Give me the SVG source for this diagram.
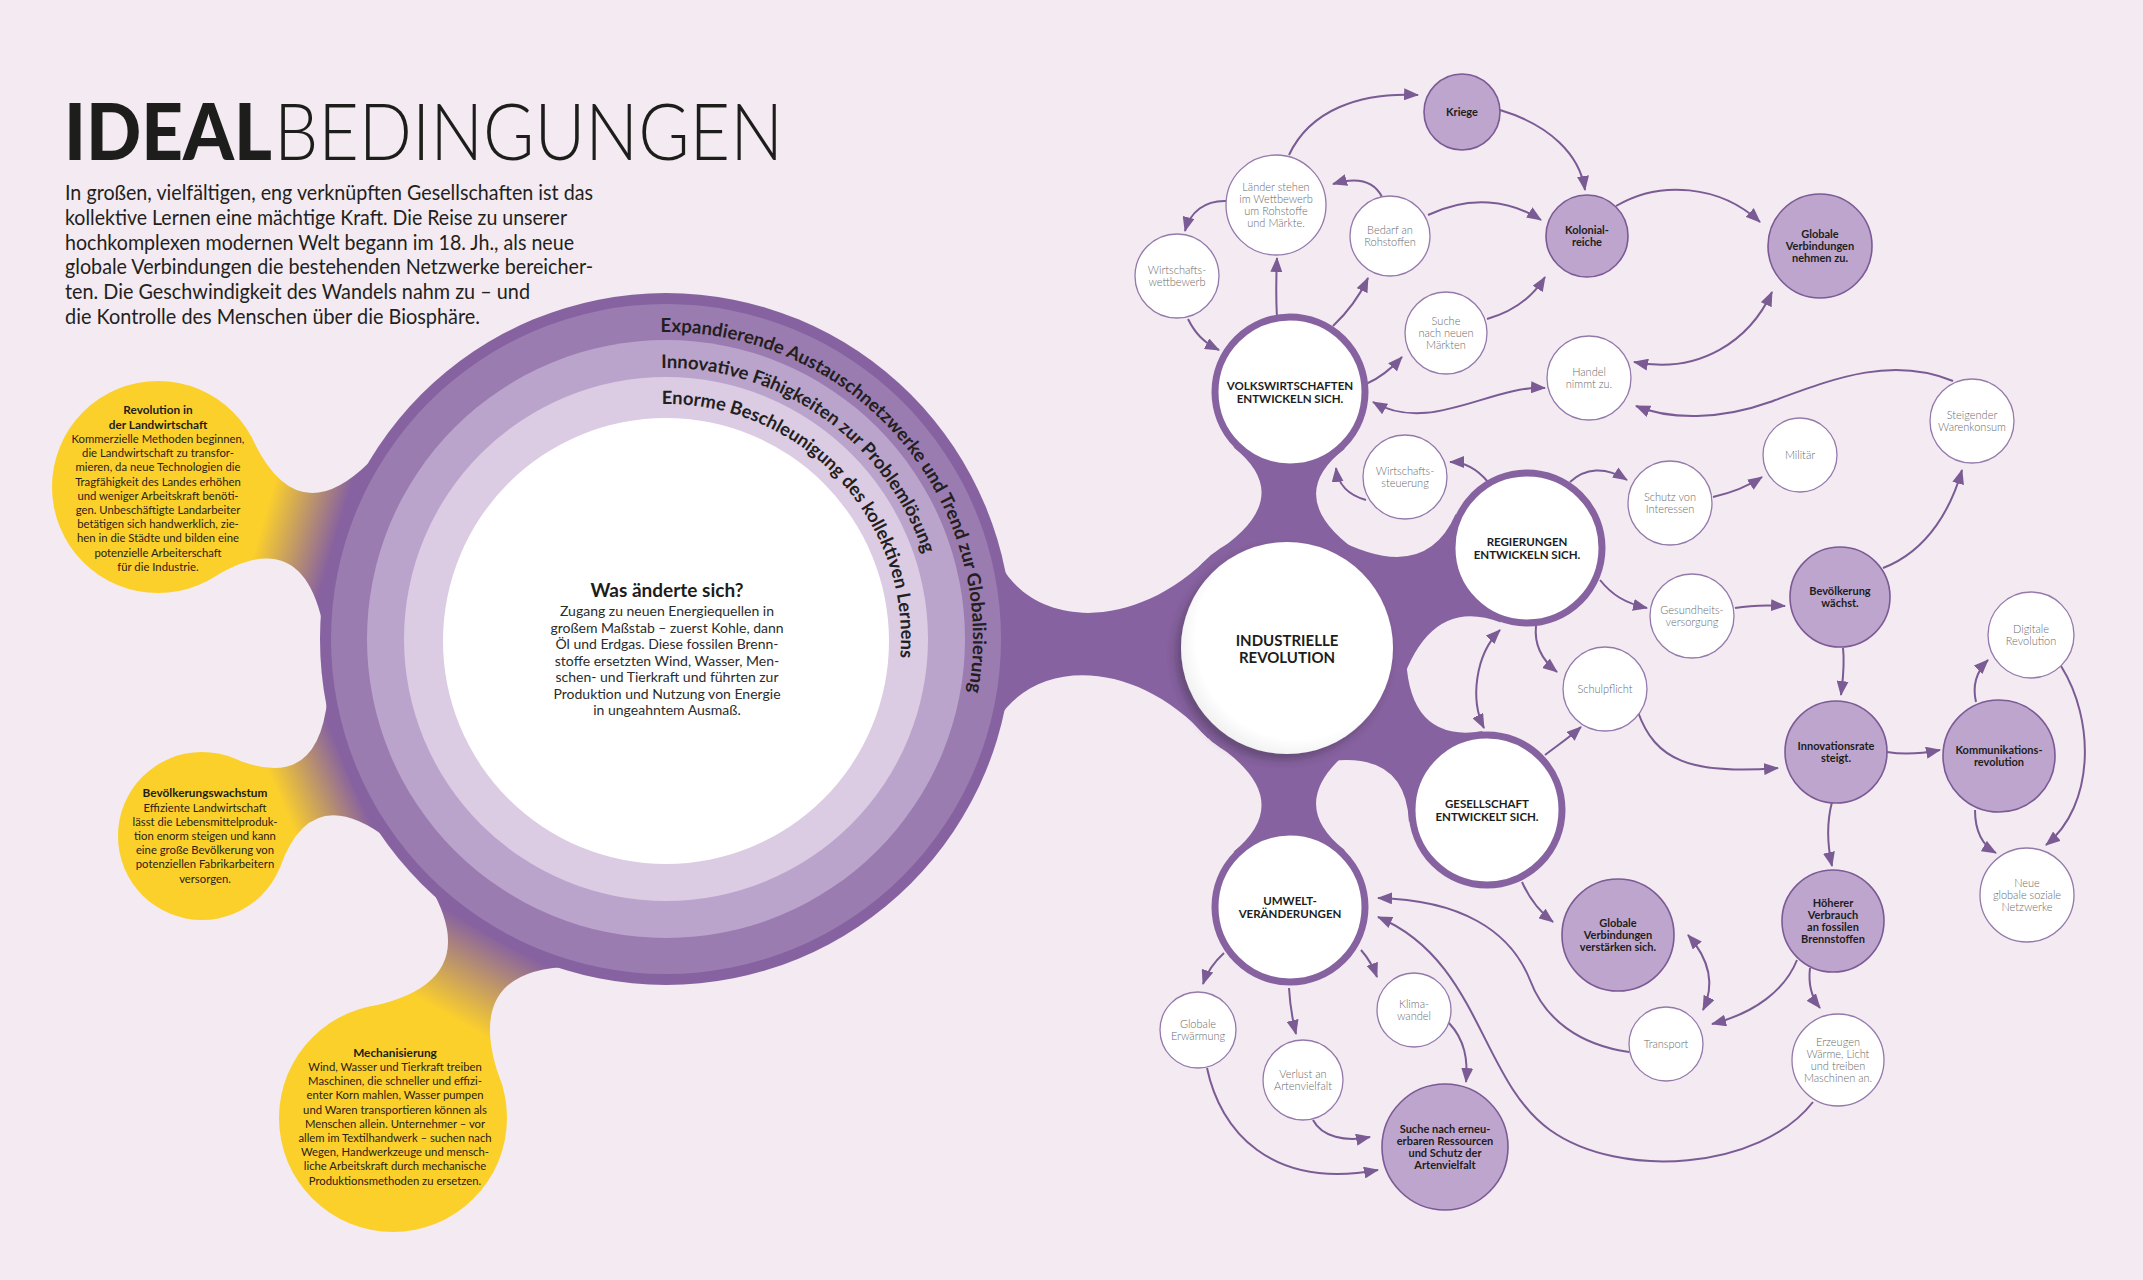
<svg xmlns="http://www.w3.org/2000/svg" width="2143" height="1280" viewBox="0 0 2143 1280">
<defs>
<style>
.f{font-family:Lato,'Liberation Sans',sans-serif}
.nw{fill:#ffffff;stroke:#9479ab;stroke-width:1.3}
.nd{fill:#bea5cd;stroke:#7b5a95;stroke-width:1.6}
.nm{fill:#ffffff;stroke:#8762a0;stroke-width:7}
.pu{fill:#8762a0}
.tl{font-family:Lato,'Liberation Sans',sans-serif;font-size:11px;font-weight:300;fill:#6b6b6b;text-anchor:middle}
.tb{font-family:Lato,'Liberation Sans',sans-serif;font-size:11px;font-weight:700;fill:#1d1d1b;text-anchor:middle}
.tm{font-family:Lato,'Liberation Sans',sans-serif;font-size:11.5px;font-weight:700;fill:#1d1d1b;text-anchor:middle}
.ty{font-family:Lato,'Liberation Sans',sans-serif;font-size:11.3px;fill:#2a2118;text-anchor:middle}
.tyb{font-family:Lato,'Liberation Sans',sans-serif;font-size:11.8px;font-weight:700;fill:#1d1d1b;text-anchor:middle}
.ring{font-family:Lato,'Liberation Sans',sans-serif;font-size:18.5px;font-weight:700;fill:#231f20}
.intro{font-family:Lato,'Liberation Sans',sans-serif;font-size:22px;fill:#231f20}
.c{fill:none;stroke:#7a5b94;stroke-width:2;marker-end:url(#ah)}
.c2{marker-start:url(#ah)}
</style>
<marker id="ah" viewBox="0 0 15 12" refX="14" refY="6" markerWidth="15" markerHeight="12" markerUnits="userSpaceOnUse" orient="auto-start-reverse">
<path d="M0,0 L15,6 L0,12 Z" fill="#7a5b94"/>
</marker>
<linearGradient id="g1" gradientUnits="userSpaceOnUse" x1="263.5" y1="518" x2="335.5" y2="539.2"><stop offset="0" stop-color="#fcd02b"/><stop offset="1" stop-color="#8762a0"/></linearGradient>
<linearGradient id="g2" gradientUnits="userSpaceOnUse" x1="281" y1="801.9" x2="348.9" y2="772.6"><stop offset="0" stop-color="#fcd02b"/><stop offset="1" stop-color="#8762a0"/></linearGradient>
<linearGradient id="g3" gradientUnits="userSpaceOnUse" x1="450" y1="1017" x2="495.2" y2="936.8"><stop offset="0" stop-color="#fcd02b"/><stop offset="1" stop-color="#8762a0"/></linearGradient>
<radialGradient id="hubfill" cx="0.55" cy="0.45" r="0.6"><stop offset="0.8" stop-color="#ffffff"/><stop offset="1" stop-color="#ececec"/></radialGradient>
<filter id="shadow" x="-30%" y="-30%" width="160%" height="160%"><feDropShadow dx="-5" dy="6" stdDeviation="5" flood-color="#3a2a45" flood-opacity="0.45"/></filter>
<path id="arc1" d="M 660.6,332.05 A 307 307 0 0 1 931.9,792.5"/>
<path id="arc2" d="M 661.3,368.0 A 271 271 0 0 1 900.7,774.5"/>
<path id="arc3" d="M 661.9,404.0 A 235 235 0 0 1 869.5,756.5"/>
</defs>

<rect x="0" y="0" width="2143" height="1280" fill="#f3eaf2"/>

<g id="title">
<text class="f" x="64" y="160" font-size="78" font-weight="900" fill="#1d1d1b" textLength="208" lengthAdjust="spacingAndGlyphs">IDEAL</text>
<text class="f" x="274" y="160" font-size="78" font-weight="300" fill="#1d1d1b" textLength="509" lengthAdjust="spacingAndGlyphs">BEDINGUNGEN</text>
</g>

<g id="intro">
<text class="intro" x="65" y="200" textLength="528" lengthAdjust="spacingAndGlyphs">In großen, vielfältigen, eng verknüpften Gesellschaften ist das</text>
<text class="intro" x="65" y="225" textLength="502" lengthAdjust="spacingAndGlyphs">kollektive Lernen eine mächtige Kraft. Die Reise zu unserer</text>
<text class="intro" x="65" y="250" textLength="509" lengthAdjust="spacingAndGlyphs">hochkomplexen modernen Welt begann im 18. Jh., als neue</text>
<text class="intro" x="65" y="274" textLength="528" lengthAdjust="spacingAndGlyphs">globale Verbindungen die bestehenden Netzwerke bereicher-</text>
<text class="intro" x="65" y="299" textLength="465" lengthAdjust="spacingAndGlyphs">ten. Die Geschwindigkeit des Wandels nahm zu – und</text>
<text class="intro" x="65" y="324" textLength="415" lengthAdjust="spacingAndGlyphs">die Kontrolle des Menschen über die Biosphäre.</text>
</g>

<g id="necks">
<path d="M 251.1,436.2 Q 295.8,534.8 369.1,462.5 L 322.3,621.8 Q 299.8,521.4 208.8,580.1 Z" fill="url(#g1)"/>
<path d="M 233.0,757.9 Q 317.9,794.9 327.6,697.7 L 388.8,839.4 Q 311.3,779.7 280.1,867.0 Z" fill="url(#g2)"/>
<path d="M 362.4,1008.2 Q 488.2,985.4 429.2,885.1 L 573.7,966.7 Q 457.2,968.0 502.8,1087.4 Z" fill="url(#g3)"/>
<path class="pu" d="M 997.6,719.6 C 1037,656.9 1137,658.8 1208.1,738.4 L 1211.7,554.6 C 1137,631.4 1037,629.5 1000.7,565.3 Z"/>
<circle class="pu" cx="1287" cy="648" r="120"/>
<path class="pu" d="M 1365.2,557.0 Q 1278.2,499.4 1345.2,448.5 L 1233.5,447.2 Q 1299.2,499.6 1211.0,555.2 Z"/>
<path class="pu" d="M 1398.0,693.7 Q 1427.5,594.0 1500.8,622.5 L 1455.6,514.1 Q 1424.3,586.2 1332.7,537.0 Z"/>
<path class="pu" d="M 1299.5,767.3 Q 1405.3,738.9 1409.0,822.3 L 1482.9,731.1 Q 1400.5,744.9 1406.3,635.5 Z"/>
<path class="pu" d="M 1210.9,740.8 Q 1299.2,797.9 1233.5,851.8 L 1345.2,850.5 Q 1278.2,798.1 1365.2,739.0 Z"/>
</g>

<g id="big-circle">
<circle cx="666" cy="639" r="346" fill="#8762a0"/>
<circle cx="666" cy="639" r="335" fill="#9b7cb1"/>
<circle cx="666" cy="639" r="299" fill="#bba4cb"/>
<circle cx="666" cy="639" r="262" fill="#dbcbe3"/>
<circle cx="666" cy="641" r="223" fill="#ffffff"/>
<text class="ring"><textPath href="#arc1" textLength="541" lengthAdjust="spacingAndGlyphs">Expandierende Austauschnetzwerke und Trend zur Globalisierung</textPath></text>
<text class="ring"><textPath href="#arc2" textLength="344" lengthAdjust="spacingAndGlyphs">Innovative Fähigkeiten zur Problemlösung</textPath></text>
<text class="ring"><textPath href="#arc3" textLength="392" lengthAdjust="spacingAndGlyphs">Enorme Beschleunigung des kollektiven Lernens</textPath></text>
<text class="f" x="667" y="597" font-size="19" font-weight="700" fill="#1d1d1b" text-anchor="middle">Was änderte sich?</text>
<g class="f" font-size="14" fill="#2b2b2b" text-anchor="middle">
<text x="667" y="616">Zugang zu neuen Energiequellen in</text>
<text x="667" y="632.5">großem Maßstab – zuerst Kohle, dann</text>
<text x="667" y="649">Öl und Erdgas. Diese fossilen Brenn-</text>
<text x="667" y="665.5">stoffe ersetzten Wind, Wasser, Men-</text>
<text x="667" y="682">schen- und Tierkraft und führten zur</text>
<text x="667" y="698.5">Produktion und Nutzung von Energie</text>
<text x="667" y="715">in ungeahntem Ausmaß.</text>
</g>
</g>

<g id="yellow-landwirtschaft">
<circle cx="158" cy="487" r="106" fill="#fcd02b"/>
<text class="tyb" x="158" y="414">Revolution in</text>
<text class="tyb" x="158" y="429">der Landwirtschaft</text>
<text class="ty" x="158" y="443">Kommerzielle Methoden beginnen,</text>
<text class="ty" x="158" y="457.2">die Landwirtschaft zu transfor-</text>
<text class="ty" x="158" y="471.4">mieren, da neue Technologien die</text>
<text class="ty" x="158" y="485.6">Tragfähigkeit des Landes erhöhen</text>
<text class="ty" x="158" y="499.8">und weniger Arbeitskraft benöti-</text>
<text class="ty" x="158" y="514">gen. Unbeschäftigte Landarbeiter</text>
<text class="ty" x="158" y="528.2">betätigen sich handwerklich, zie-</text>
<text class="ty" x="158" y="542.4">hen in die Städte und bilden eine</text>
<text class="ty" x="158" y="556.6">potenzielle Arbeiterschaft</text>
<text class="ty" x="158" y="570.8">für die Industrie.</text>
</g>

<g id="yellow-bevoelkerung">
<circle cx="202" cy="836" r="84" fill="#fcd02b"/>
<text class="tyb" x="205" y="797">Bevölkerungswachstum</text>
<text class="ty" x="205" y="812">Effiziente Landwirtschaft</text>
<text class="ty" x="205" y="826">lässt die Lebensmittelproduk-</text>
<text class="ty" x="205" y="840">tion enorm steigen und kann</text>
<text class="ty" x="205" y="854">eine große Bevölkerung von</text>
<text class="ty" x="205" y="868">potenziellen Fabrikarbeitern</text>
<text class="ty" x="205" y="883">versorgen.</text>
</g>

<g id="yellow-mechanisierung">
<circle cx="393" cy="1118" r="114" fill="#fcd02b"/>
<text class="tyb" x="395" y="1057">Mechanisierung</text>
<text class="ty" x="395" y="1071">Wind, Wasser und Tierkraft treiben</text>
<text class="ty" x="395" y="1085.2">Maschinen, die schneller und effizi-</text>
<text class="ty" x="395" y="1099.4">enter Korn mahlen, Wasser pumpen</text>
<text class="ty" x="395" y="1113.6">und Waren transportieren können als</text>
<text class="ty" x="395" y="1127.8">Menschen allein. Unternehmer – vor</text>
<text class="ty" x="395" y="1142">allem im Textilhandwerk – suchen nach</text>
<text class="ty" x="395" y="1156.2">Wegen, Handwerkzeuge und mensch-</text>
<text class="ty" x="395" y="1170.4">liche Arbeitskraft durch mechanische</text>
<text class="ty" x="395" y="1184.6">Produktionsmethoden zu ersetzen.</text>
</g>

<g id="connectors">
<path class="c" d="M 1289,155 C 1310,110 1360,92 1418,95"/>
<path class="c" d="M 1500,110 C 1550,125 1580,155 1585,190"/>
<path class="c" d="M 1382,197 C 1375,183 1360,176 1333,184"/>
<path class="c" d="M 1227,201 C 1205,200 1190,212 1185,231"/>
<path class="c" d="M 1188,319 C 1195,333 1203,342 1219,350"/>
<path class="c" d="M 1277,318 C 1276,300 1276,280 1277,258"/>
<path class="c" d="M 1333,326 C 1350,310 1360,295 1368,278"/>
<path class="c" d="M 1428,215 C 1470,195 1510,200 1541,220"/>
<path class="c" d="M 1487,319 C 1512,312 1532,298 1545,277"/>
<path class="c" d="M 1366,384 C 1380,378 1392,368 1402,357"/>
<path class="c" d="M 1616,206 C 1660,180 1720,185 1760,222"/>
<path class="c c2" d="M 1634,362 C 1700,375 1750,340 1772,292"/>
<path class="c c2" d="M 1373,402 C 1430,435 1490,385 1545,388"/>
<path class="c" d="M 1953,381 C 1890,355 1830,380 1770,402 C 1720,420 1670,420 1636,406"/>
<path class="c" d="M 1488,482 C 1478,470 1465,462 1450,462"/>
<path class="c" d="M 1366,500 C 1348,495 1338,485 1336,468"/>
<path class="c" d="M 1570,482 C 1585,468 1605,466 1627,480"/>
<path class="c" d="M 1713,497 C 1735,492 1750,485 1762,477"/>
<path class="c" d="M 1600,580 C 1612,595 1625,603 1647,608"/>
<path class="c" d="M 1735,608 C 1752,605 1768,605 1785,606"/>
<path class="c" d="M 1536,626 C 1534,645 1542,660 1557,672"/>
<path class="c c2" d="M 1500,630 C 1475,655 1470,700 1484,728"/>
<path class="c" d="M 1545,755 C 1558,745 1570,737 1581,727"/>
<path class="c" d="M 1638,712 C 1655,760 1690,775 1778,768"/>
<path class="c" d="M 1883,568 C 1930,550 1952,505 1962,470"/>
<path class="c" d="M 1843,648 C 1845,665 1843,678 1841,695"/>
<path class="c" d="M 1887,752 C 1905,755 1920,754 1940,750"/>
<path class="c" d="M 1976,702 C 1972,685 1976,672 1988,660"/>
<path class="c" d="M 2061,666 C 2095,720 2095,805 2046,845"/>
<path class="c" d="M 1975,810 C 1975,830 1982,845 1996,853"/>
<path class="c" d="M 1832,802 C 1826,825 1828,848 1832,866"/>
<path class="c" d="M 1522,882 C 1530,900 1540,912 1553,922"/>
<path class="c" d="M 1629,1052 C 1580,1045 1545,1020 1530,980 C 1510,930 1460,900 1378,898"/>
<path class="c" d="M 1813,1102 C 1760,1170 1620,1180 1550,1130 C 1480,1080 1480,960 1378,917"/>
<path class="c c2" d="M 1688,935 C 1710,960 1715,985 1703,1010"/>
<path class="c" d="M 1797,960 C 1785,990 1755,1013 1712,1024"/>
<path class="c" d="M 1810,968 C 1808,985 1812,998 1820,1008"/>
<path class="c" d="M 1224,953 C 1213,963 1207,972 1203,984"/>
<path class="c" d="M 1289,988 C 1290,1005 1292,1018 1296,1034"/>
<path class="c" d="M 1361,950 C 1368,958 1373,966 1377,977"/>
<path class="c" d="M 1449,1023 C 1465,1040 1468,1060 1466,1082"/>
<path class="c" d="M 1313,1120 C 1322,1137 1345,1142 1370,1137"/>
<path class="c" d="M 1207,1068 C 1220,1130 1270,1190 1378,1170"/>
</g>

<g id="node-industrielle">
<circle cx="1287" cy="648" r="106" fill="url(#hubfill)" filter="url(#shadow)"/>
<text class="f" x="1287" y="645.5" font-size="15" font-weight="700" fill="#1d1d1b" text-anchor="middle">INDUSTRIELLE</text>
<text class="f" x="1287" y="662.5" font-size="15" font-weight="700" fill="#1d1d1b" text-anchor="middle">REVOLUTION</text>
</g>
<g id="node-volkswirtschaften">
<circle class="nm" cx="1290" cy="392" r="75"/>
<text class="tm" x="1290" y="390">VOLKSWIRTSCHAFTEN</text>
<text class="tm" x="1290" y="403">ENTWICKELN SICH.</text>
</g>
<g id="node-regierungen">
<circle class="nm" cx="1527" cy="548" r="75"/>
<text class="tm" x="1527" y="546">REGIERUNGEN</text>
<text class="tm" x="1527" y="559">ENTWICKELN SICH.</text>
</g>
<g id="node-gesellschaft">
<circle class="nm" cx="1487" cy="810" r="75"/>
<text class="tm" x="1487" y="808">GESELLSCHAFT</text>
<text class="tm" x="1487" y="821">ENTWICKELT SICH.</text>
</g>
<g id="node-umwelt">
<circle class="nm" cx="1290" cy="907" r="75"/>
<text class="tm" x="1290" y="905">UMWELT-</text>
<text class="tm" x="1290" y="918">VERÄNDERUNGEN</text>
</g>

<g id="node-kriege"><circle class="nd" cx="1462" cy="112" r="38"/><text class="tb" x="1462" y="116">Kriege</text></g>
<g id="node-laender"><circle class="nw" cx="1276" cy="205" r="50"/><text class="tl" x="1276" y="191">Länder stehen</text><text class="tl" x="1276" y="203">im Wettbewerb</text><text class="tl" x="1276" y="215">um Rohstoffe</text><text class="tl" x="1276" y="227">und Märkte.</text></g>
<g id="node-bedarf"><circle class="nw" cx="1390" cy="236" r="40"/><text class="tl" x="1390" y="234">Bedarf an</text><text class="tl" x="1390" y="246">Rohstoffen</text></g>
<g id="node-kolonialreiche"><circle class="nd" cx="1587" cy="236" r="41"/><text class="tb" x="1587" y="234">Kolonial-</text><text class="tb" x="1587" y="246">reiche</text></g>
<g id="node-globale-nehmen"><circle class="nd" cx="1820" cy="246" r="52"/><text class="tb" x="1820" y="238">Globale</text><text class="tb" x="1820" y="250">Verbindungen</text><text class="tb" x="1820" y="262">nehmen zu.</text></g>
<g id="node-wirtschaftswettbewerb"><circle class="nw" cx="1177" cy="276" r="42"/><text class="tl" x="1177" y="274">Wirtschafts-</text><text class="tl" x="1177" y="286">wettbewerb</text></g>
<g id="node-suche-maerkte"><circle class="nw" cx="1446" cy="333" r="41"/><text class="tl" x="1446" y="325">Suche</text><text class="tl" x="1446" y="337">nach neuen</text><text class="tl" x="1446" y="349">Märkten</text></g>
<g id="node-handel"><circle class="nw" cx="1589" cy="378" r="42"/><text class="tl" x="1589" y="376">Handel</text><text class="tl" x="1589" y="388">nimmt zu.</text></g>
<g id="node-steigender"><circle class="nw" cx="1972" cy="421" r="42"/><text class="tl" x="1972" y="419">Steigender</text><text class="tl" x="1972" y="431">Warenkonsum</text></g>
<g id="node-militaer"><circle class="nw" cx="1800" cy="455" r="37"/><text class="tl" x="1800" y="459">Militär</text></g>
<g id="node-wirtschaftssteuerung"><circle class="nw" cx="1405" cy="477" r="42"/><text class="tl" x="1405" y="475">Wirtschafts-</text><text class="tl" x="1405" y="487">steuerung</text></g>
<g id="node-schutz"><circle class="nw" cx="1670" cy="503" r="42"/><text class="tl" x="1670" y="501">Schutz von</text><text class="tl" x="1670" y="513">Interessen</text></g>
<g id="node-bevoelkerung"><circle class="nd" cx="1840" cy="597" r="50"/><text class="tb" x="1840" y="595">Bevölkerung</text><text class="tb" x="1840" y="607">wächst.</text></g>
<g id="node-gesundheit"><circle class="nw" cx="1692" cy="616" r="42"/><text class="tl" x="1692" y="614">Gesundheits-</text><text class="tl" x="1692" y="626">versorgung</text></g>
<g id="node-digitale"><circle class="nw" cx="2031" cy="635" r="43"/><text class="tl" x="2031" y="633">Digitale</text><text class="tl" x="2031" y="645">Revolution</text></g>
<g id="node-schulpflicht"><circle class="nw" cx="1605" cy="689" r="42"/><text class="tl" x="1605" y="693">Schulpflicht</text></g>
<g id="node-innovationsrate"><circle class="nd" cx="1836" cy="752" r="51"/><text class="tb" x="1836" y="750">Innovationsrate</text><text class="tb" x="1836" y="762">steigt.</text></g>
<g id="node-kommunikation"><circle class="nd" cx="1999" cy="756" r="56"/><text class="tb" x="1999" y="754">Kommunikations-</text><text class="tb" x="1999" y="766">revolution</text></g>
<g id="node-neue-netzwerke"><circle class="nw" cx="2027" cy="895" r="47"/><text class="tl" x="2027" y="887">Neue</text><text class="tl" x="2027" y="899">globale soziale</text><text class="tl" x="2027" y="911">Netzwerke</text></g>
<g id="node-globale-verstaerken"><circle class="nd" cx="1618" cy="935" r="56"/><text class="tb" x="1618" y="927">Globale</text><text class="tb" x="1618" y="939">Verbindungen</text><text class="tb" x="1618" y="951">verstärken sich.</text></g>
<g id="node-hoeherer"><circle class="nd" cx="1833" cy="921" r="51"/><text class="tb" x="1833" y="907">Höherer</text><text class="tb" x="1833" y="919">Verbrauch</text><text class="tb" x="1833" y="931">an fossilen</text><text class="tb" x="1833" y="943">Brennstoffen</text></g>
<g id="node-klimawandel"><circle class="nw" cx="1414" cy="1010" r="37"/><text class="tl" x="1414" y="1008">Klima-</text><text class="tl" x="1414" y="1020">wandel</text></g>
<g id="node-erwaermung"><circle class="nw" cx="1198" cy="1030" r="38"/><text class="tl" x="1198" y="1028">Globale</text><text class="tl" x="1198" y="1040">Erwärmung</text></g>
<g id="node-transport"><circle class="nw" cx="1666" cy="1044" r="37"/><text class="tl" x="1666" y="1048">Transport</text></g>
<g id="node-verlust"><circle class="nw" cx="1303" cy="1080" r="40"/><text class="tl" x="1303" y="1078">Verlust an</text><text class="tl" x="1303" y="1090">Artenvielfalt</text></g>
<g id="node-erzeugen"><circle class="nw" cx="1838" cy="1060" r="46"/><text class="tl" x="1838" y="1046">Erzeugen</text><text class="tl" x="1838" y="1058">Wärme, Licht</text><text class="tl" x="1838" y="1070">und treiben</text><text class="tl" x="1838" y="1082">Maschinen an.</text></g>
<g id="node-suche-erneuerbar"><circle class="nd" cx="1445" cy="1147" r="63"/><text class="tb" x="1445" y="1133">Suche nach erneu-</text><text class="tb" x="1445" y="1145">erbaren Ressourcen</text><text class="tb" x="1445" y="1157">und Schutz der</text><text class="tb" x="1445" y="1169">Artenvielfalt</text></g>
</svg>
